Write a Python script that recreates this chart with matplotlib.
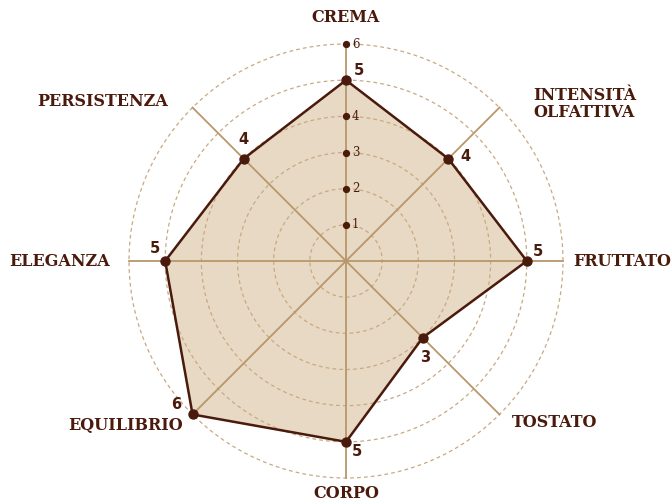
import numpy as np
import matplotlib
matplotlib.use("Agg")
import matplotlib.pyplot as plt

categories = ["CREMA", "INTENSITÀ\nOLFATTIVA", "FRUTTATO", "TOSTATO",
              "CORPO", "EQUILIBRIO", "ELEGANZA", "PERSISTENZA"]
values = [5, 4, 5, 3, 5, 6, 5, 4]
ticks = [1, 2, 3, 4, 5, 6]

# styling / placement (pixel offsets from spoke end or point)
cat_offsets = [(0, 26), (85, 4), (59, 0), (55, -8), (0, -15), (-67, -11), (-69, 0), (-90, 6)]
val_offsets = [(13, 10), (17, 2), (11, 10), (2, -20), (11, -10), (-16, 10), (-10, 13), (0, 19)]

dark = "#4a1a0c"
tan = "#b8976a"
grid_col = "#c9a982"
fill_col = "#e8d9c4"

fig = plt.figure(figsize=(6.72, 5.01), dpi=100)
ax = fig.add_axes([129 / 672, 23 / 501, 434 / 672, 434 / 501], projection="polar")
ax.set_theta_zero_location("N")
ax.set_theta_direction(-1)
ax.set_ylim(0, 6)
ax.axis("off")

n = len(categories)
angles = np.arange(n) * 2 * np.pi / n
px2pt = 72 / 100

# polygon fill
closed_a = np.append(angles, angles[0])
closed_v = np.append(values, values[0])
ax.fill(closed_a, closed_v, color=fill_col, zorder=1)

# dashed circles
th = np.linspace(0, 2 * np.pi, 400)
for t in ticks:
    ax.plot(th, np.full_like(th, t), ls=(0, (3, 2.5)), lw=0.9, color=grid_col,
            zorder=2, clip_on=False)

# spokes
for a in angles:
    ax.plot([a, a], [0, ticks[-1]], color=tan, lw=1.3, zorder=3, clip_on=False)

ax.plot(closed_a, closed_v, color=dark, lw=1.8, zorder=4, clip_on=False)
ax.scatter(angles, values, s=42, color=dark, zorder=5, clip_on=False)

# tick dots and labels on top spoke (the value label hides the matching tick)
ax.scatter(np.zeros(len(ticks)), ticks, s=18, color=dark, zorder=5, clip_on=False)
for t in ticks:
    if t == values[0]:
        continue
    ax.annotate(str(t), (0, t), xytext=(6 * px2pt, 0), textcoords="offset points",
                ha="left", va="center", fontsize=8.5, family="DejaVu Serif",
                color=dark, zorder=6)

# value labels
for a, v, (dx, dy) in zip(angles, values, val_offsets):
    ax.annotate(str(v), (a, v), xytext=(dx * px2pt, dy * px2pt), textcoords="offset points",
                ha="center", va="center", fontsize=10.5, fontweight="bold",
                family="DejaVu Sans", color=dark, zorder=6)

# category labels
for a, c, (dx, dy) in zip(angles, categories, cat_offsets):
    ax.annotate(c, (a, ticks[-1]), xytext=(dx * px2pt, dy * px2pt), textcoords="offset points",
                ha="center", va="center", fontsize=11.5, fontweight="bold",
                family="DejaVu Serif", color=dark, linespacing=1.0,
                annotation_clip=False)

fig.savefig("out.png", dpi=100)
